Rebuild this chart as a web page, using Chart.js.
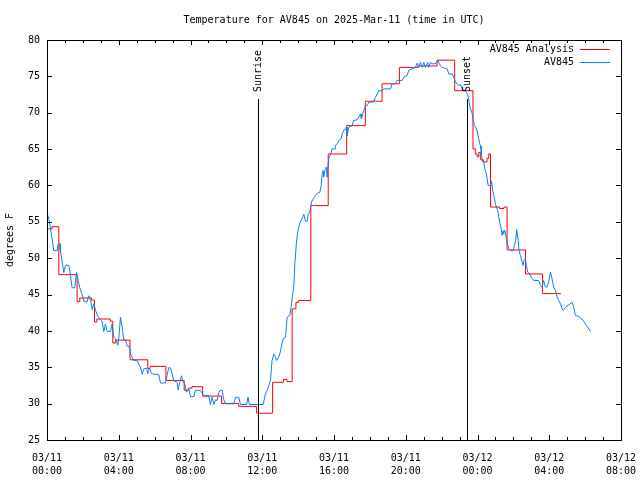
<!DOCTYPE html>
<html><head><meta charset="utf-8">
<script src="https://cdn.jsdelivr.net/npm/chart.js@4"></script>
<style>html,body{margin:0;padding:0;background:#fff}</style>
</head><body>
<div style="width:640px;height:480px"><canvas id="c" width="640" height="480"></canvas></div>
<script>
// ---------- data ----------
const titleText = "Temperature for AV845 on 2025-Mar-11 (time in UTC)";
const yAxisLabel = "degrees F";
const xTickLabels = [["03/11","00:00"],["03/11","04:00"],["03/11","08:00"],["03/11","12:00"],["03/11","16:00"],["03/11","20:00"],["03/12","00:00"],["03/12","04:00"],["03/12","08:00"]];
const yMin = 25, yMax = 80, yStep = 5;
const seriesNames = ["AV845 Analysis", "AV845"];
const sunEvents = ["Sunrise", "Sunset"];
const sunHours = [11.76, 23.42];

// hours since 03/11 00:00 UTC
const analysisHours = [0,0.25,0.63,1.65,1.8,2.45,2.62,2.75,3.5,3.64,3.78,4.6,5.59,5.72,6.6,7.62,7.85,8.05,8.65,9.7,10.66,11.66,12.55,13.15,13.35,13.64,13.85,14.0,14.68,15.65,16.68,17.72,18.65,19.62,20.65,21.72,22.7,23.72,23.85,23.95,24.05,24.15,24.3,24.5,24.6,24.7,25.2,25.45,25.62,26.65,27.6,28.63];
const analysisTemps = [54.1,54.4,47.8,44.1,44.6,44.3,41.3,41.7,41.4,38.4,38.8,36.1,34.9,35.2,33.25,31.9,32.2,32.4,31.1,30.1,29.7,28.75,33.0,33.4,33.1,43.1,44.0,44.25,57.3,64.4,68.3,71.65,74.05,76.3,76.5,77.3,73.1,65.1,64.4,64.0,64.6,63.6,63.3,63.8,64.4,57.1,56.9,57.1,51.2,47.9,45.2,45.2];

const obsHours = [0,0.05,0.1,0.17,0.26,0.35,0.54,0.6,0.67,0.72,0.82,0.91,1.0,1.19,1.28,1.37,1.52,1.62,1.71,1.8,1.93,2.03,2.21,2.3,2.4,2.49,2.58,2.68,2.8,2.95,3.05,3.14,3.23,3.33,3.51,3.6,3.7,3.79,3.92,3.98,4.07,4.16,4.25,4.35,4.44,4.54,4.63,4.72,4.81,5.0,5.09,5.18,5.28,5.37,5.52,5.59,5.69,5.8,5.93,6.2,6.3,6.58,6.66,6.76,6.85,6.95,7.04,7.23,7.28,7.37,7.47,7.56,7.65,7.75,7.88,7.97,8.16,8.25,8.53,8.62,8.71,8.99,9.08,9.18,9.27,9.37,9.46,9.55,9.64,9.74,9.83,9.92,10.39,10.48,10.66,10.76,11.1,11.18,11.25,12.02,12.15,12.25,12.34,12.43,12.52,12.62,12.67,12.77,12.84,12.95,13.03,13.14,13.27,13.36,13.51,13.58,13.67,13.73,13.79,13.88,13.95,14.05,14.14,14.23,14.29,14.38,14.48,14.53,14.62,14.72,14.81,14.94,15.03,15.18,15.26,15.31,15.37,15.4,15.46,15.55,15.59,15.65,15.7,15.77,15.87,16.0,16.05,16.15,16.24,16.37,16.43,16.52,16.61,16.67,16.7,16.8,16.98,17.07,17.26,17.35,17.45,17.5,17.6,17.67,17.73,17.82,17.91,18.19,18.28,18.38,18.47,18.66,18.75,19.12,19.21,19.4,19.49,19.77,19.86,20.05,20.14,20.33,20.51,20.61,20.7,20.79,20.89,20.98,21.07,21.2,21.25,21.35,21.44,21.63,21.76,21.85,21.91,22.0,22.28,22.37,22.56,22.65,22.74,22.84,22.93,23.02,23.12,23.3,23.42,23.5,23.58,23.67,23.74,23.8,23.86,23.95,24.04,24.1,24.14,24.19,24.27,24.32,24.38,24.47,24.51,24.57,24.69,24.75,24.82,24.88,24.97,25.03,25.1,25.16,25.21,25.29,25.35,25.4,25.43,25.49,25.57,25.66,25.71,25.81,25.96,26.03,26.1,26.16,26.24,26.29,26.37,26.46,26.52,26.55,26.64,26.7,26.77,26.89,26.96,27.11,27.39,27.48,27.57,27.66,27.76,27.85,27.94,28.04,28.13,28.22,28.32,28.41,28.5,28.6,28.69,28.75,28.87,29.25,29.34,29.43,29.62,29.8,30.0,30.27];
const obsTemps = [56.1,56.1,55.2,54.1,52.7,51.1,51.1,52.05,52.05,51.1,49.5,48.1,49.1,49.1,47.7,46.0,46.0,48.1,47.0,46.0,45.1,44.1,44.1,44.9,44.25,43.0,43.8,42.9,42.05,41.7,41.3,40.0,41.0,40.0,40.0,41.0,39.2,39.0,38.1,39.2,41.95,40.6,38.85,38.8,38.0,38.0,36.9,36.45,36.0,36.0,35.45,35.1,34.1,34.85,34.95,34.2,34.95,34.2,34.1,34.1,32.9,32.9,33.9,35.0,35.0,34.2,33.25,33.0,31.95,33.0,33.9,33.0,32.8,31.65,32.1,31.05,31.05,31.9,31.9,31.5,31.2,31.2,29.95,30.95,29.95,30.6,30.5,31.6,31.9,31.9,30.6,30.05,30.05,30.95,30.95,29.95,29.95,30.95,29.95,29.95,31.4,31.9,32.6,33.25,36.0,36.9,36.7,36.0,36.2,36.9,37.8,39.0,39.2,41.95,42.2,43.3,45.2,46.1,49.3,52.3,53.65,54.8,55.2,55.7,56.1,55.15,55.15,56.1,56.4,57.8,58.2,58.7,59.0,59.1,60.05,61.65,62.1,61.2,62.1,62.6,61.2,63.05,63.95,64.2,65.1,65.1,65.6,65.8,66.25,66.5,67.2,67.7,67.8,68.1,66.9,68.1,68.3,69.0,69.1,69.45,69.9,69.2,70.15,70.6,71.05,71.05,71.5,71.55,72.2,72.65,73.1,73.1,73.35,73.35,74.05,74.05,74.5,74.5,74.95,75.2,75.9,76.1,76.3,76.9,76.3,77.0,76.3,77.0,76.3,77.0,76.3,77.0,76.8,76.8,77.3,76.8,76.5,76.3,76.1,75.4,75.4,74.95,74.3,74.0,73.8,73.95,73.3,73.1,72.6,71.6,70.6,70.0,69.0,68.3,68.1,67.6,66.5,65.8,65.5,64.2,63.3,63.3,62.35,61.65,61.0,60.05,60.05,60.7,59.4,58.7,57.55,57.1,56.6,55.7,55.0,54.1,53.2,53.85,53.4,53.9,53.0,51.8,51.4,51.1,51.1,51.8,52.5,54.0,52.5,51.1,50.4,49.5,49.05,49.7,50.0,49.05,48.15,47.9,47.45,47.0,47.0,46.3,46.1,47.0,46.1,46.1,46.8,48.15,47.2,46.1,45.65,44.7,44.25,43.8,43.1,42.9,43.3,44.0,43.3,42.2,42.05,41.7,41.0,40.0];

// ---------- styling ----------
const FONT = "'DejaVu Sans Mono', monospace";
const RED = "#ff0000", BLUE = "#0a80f0";

const toPoints = (xs, ys) => xs.map((x, i) => ({x, y: ys[i]}));

const gnuplotDecor = {
  id: 'gnuplotDecor',
  beforeDatasetsDraw(chart) { chart.ctx.save(); chart.ctx.translate(0.5, 0.5); },
  afterDatasetsDraw(chart) { chart.ctx.restore(); },
  afterDraw(chart) {
    const ctx = chart.ctx, a = chart.chartArea;
    const xs = chart.scales.x, ys = chart.scales.y;
    ctx.save();
    ctx.strokeStyle = '#000'; ctx.lineWidth = 1;
    // border
    ctx.strokeRect(Math.round(a.left) + 0.5, Math.round(a.top) + 0.5, Math.round(a.right - a.left), Math.round(a.bottom - a.top));
    // x ticks (major every 4h, minor every 1h), inward, bottom and top
    ctx.beginPath();
    for (let h = xs.min; h <= xs.max; h += 1) {
      const px = Math.round(xs.getPixelForValue(h)) + 0.5;
      const len = (h % 4 === 0) ? 5 : 3;
      ctx.moveTo(px, a.bottom); ctx.lineTo(px, a.bottom - len);
      ctx.moveTo(px, a.top); ctx.lineTo(px, a.top + len);
    }
    for (let v = yMin; v <= yMax; v += yStep) {
      const py = Math.round(ys.getPixelForValue(v)) + 0.5;
      ctx.moveTo(a.left, py); ctx.lineTo(a.left + 5, py);
      ctx.moveTo(a.right, py); ctx.lineTo(a.right - 5, py);
    }
    ctx.stroke();
    // sunrise / sunset
    ctx.font = '10px ' + FONT; ctx.fillStyle = '#000';
    sunEvents.forEach((name, i) => {
      const px = Math.round(xs.getPixelForValue(sunHours[i])) + 0.5;
      ctx.beginPath(); ctx.moveTo(px, 99); ctx.lineTo(px, a.bottom); ctx.stroke();
      ctx.save(); ctx.translate(px, 92); ctx.rotate(-Math.PI / 2);
      ctx.textAlign = 'left'; ctx.textBaseline = 'middle';
      ctx.fillText(name, 0, 0); ctx.restore();
    });
    // title
    ctx.textAlign = 'center'; ctx.textBaseline = 'middle';
    ctx.fillText(titleText, (a.left + a.right) / 2, 20);
    // y axis label
    ctx.save(); ctx.translate(10, (a.top + a.bottom) / 2); ctx.rotate(-Math.PI / 2);
    ctx.fillText(yAxisLabel, 0, 0); ctx.restore();
    // legend
    chart.data.datasets.forEach((ds, i) => {
      const y = 49 + i * 13;
      ctx.textAlign = 'right'; ctx.fillStyle = '#000';
      ctx.fillText(ds.label, 574, y);
      ctx.strokeStyle = ds.borderColor;
      ctx.beginPath(); ctx.moveTo(580, y + 0.5); ctx.lineTo(610, y + 0.5); ctx.stroke();
    });
    ctx.restore();
  }
};

new Chart(document.getElementById('c'), {
  type: 'line',
  data: {
    datasets: [
      { label: seriesNames[0], data: toPoints(analysisHours, analysisTemps), borderColor: RED, borderWidth: 1, pointRadius: 0, stepped: true, order: 1 },
      { label: seriesNames[1], data: toPoints(obsHours, obsTemps), borderColor: BLUE, borderWidth: 1, pointRadius: 0, tension: 0, order: 0 }
    ]
  },
  options: {
    responsive: false, animation: false, devicePixelRatio: 1,
    layout: { padding: { top: 40, right: 19, left: 0, bottom: 0 } },
    plugins: { legend: { display: false }, tooltip: { enabled: false }, title: { display: false } },
    scales: {
      x: {
        type: 'linear', min: 0, max: 32,
        afterFit: s => { s.height = 40; s.paddingLeft = 0; s.paddingRight = 0; },
        grid: { display: false, drawTicks: false }, border: { display: false },
        ticks: { stepSize: 4, autoSkip: false, maxRotation: 0, padding: 12, color: '#000',
          font: { family: FONT, size: 10, lineHeight: 1.3 },
          callback: v => xTickLabels[Math.round(v / 4)] }
      },
      y: {
        min: yMin, max: yMax,
        afterFit: s => { s.width = 47; s.paddingTop = 0; s.paddingBottom = 0; },
        grid: { display: false, drawTicks: false }, border: { display: false },
        ticks: { stepSize: yStep, padding: 7, color: '#000', font: { family: FONT, size: 10 } }
      }
    }
  },
  plugins: [gnuplotDecor]
});
</script>
</body></html>
